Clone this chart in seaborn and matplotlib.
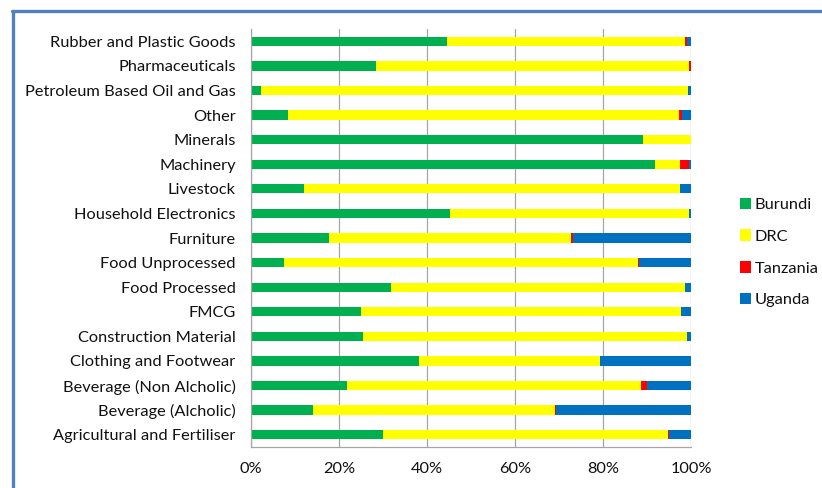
import numpy as np
import pandas as pd
import matplotlib
matplotlib.use("Agg")
import matplotlib.pyplot as plt
from matplotlib.lines import Line2D
from matplotlib.patches import Patch
from matplotlib.ticker import FixedLocator, PercentFormatter
import seaborn as sns

categories = [
    "Rubber and Plastic Goods", "Pharmaceuticals", "Petroleum Based Oil and Gas",
    "Other", "Minerals", "Machinery", "Livestock", "Household Electronics",
    "Furniture", "Food Unprocessed", "Food Processed", "FMCG",
    "Construction Material", "Clothing and Footwear", "Beverage (Non Alcholic)",
    "Beverage (Alcholic)", "Agricultural and Fertiliser",
]
countries = ["Burundi", "DRC", "Tanzania", "Uganda"]
burundi = [44.5, 28.4, 2.3, 8.4, 89.2, 91.9, 12.0, 45.3, 17.7, 7.4, 31.9, 25.0, 25.5, 38.2, 21.8, 14.2, 30.1]
drc = [54.2, 71.2, 97.1, 88.8, 10.8, 5.6, 85.5, 54.2, 55.0, 80.6, 66.8, 72.7, 73.6, 41.2, 66.8, 54.9, 64.6]
tanzania = [0.5, 0.4, 0.0, 0.8, 0.0, 2.0, 0.0, 0.0, 0.4, 0.2, 0.0, 0.1, 0.0, 0.0, 1.5, 0.2, 0.2]
uganda = [0.8, 0.0, 0.6, 2.0, 0.0, 0.5, 2.5, 0.5, 26.9, 11.8, 1.3, 2.2, 0.9, 20.6, 9.9, 30.7, 5.1]
colors = ["#00b050", "#ffff00", "#ff0000", "#0070c0"]
xticks = [0, 20, 40, 60, 80, 100]

df = pd.DataFrame({"Burundi": burundi, "DRC": drc, "Tanzania": tanzania, "Uganda": uganda},
                  index=categories)
# 100% stacked shares
share = df.div(df.sum(axis=1), axis=0) * 100
cum = share.cumsum(axis=1)

sns.set_style("white")
plt.rcParams["font.family"] = ["Lato", "DejaVu Sans"]

fig = plt.figure(figsize=(8.22, 4.88), dpi=100)
ax = fig.add_axes([251 / 822, 1 - 447 / 488, 440 / 822, 418 / 488])

# draw cumulative totals from the outermost segment inward so they stack
for country, color in reversed(list(zip(countries, colors))):
    sns.barplot(x=cum[country].values, y=categories, orient="h", color=color,
                width=0.38, saturation=1, ax=ax, linewidth=0, order=categories)

ax.set_xlim(0, 100)
ax.set_ylim(16.5, -0.5)
ax.set_xticks(xticks)
ax.xaxis.set_major_formatter(PercentFormatter(decimals=0))
ax.set_xlabel("")
ax.set_ylabel("")
ax.set_axisbelow(True)
ax.grid(axis="x", color="#a6a6a6", linewidth=0.9)
ax.grid(axis="y", visible=False)

for s in ["top", "right"]:
    ax.spines[s].set_visible(False)
for s in ["left", "bottom"]:
    ax.spines[s].set_color("#a6a6a6")
    ax.spines[s].set_linewidth(0.9)

ax.tick_params(axis="y", which="major", length=0, pad=11, labelsize=11.8, labelcolor="#111111")
ax.yaxis.set_minor_locator(FixedLocator(np.arange(-0.5, 17, 1)))
ax.tick_params(axis="y", which="minor", length=5, color="#a6a6a6", width=0.9, direction="out")
ax.tick_params(axis="x", which="major", length=4, color="#a6a6a6", width=0.9,
               direction="out", pad=7, labelsize=11.8, labelcolor="#111111")

handles = [Patch(facecolor=c, edgecolor="none") for c in colors]
fig.legend(handles, countries, loc="upper left", bbox_to_anchor=(725 / 822, 1 - 183 / 488),
           frameon=False, fontsize=11.8, labelspacing=1.05, handlelength=0.7,
           handleheight=0.7, handletextpad=0.2, labelcolor="#111111")

# blue frame along the top and left edge
fig.add_artist(Line2D([12 / 822, 1], [1 - 10.5 / 488, 1 - 10.5 / 488],
                      transform=fig.transFigure, color="#4f81bd", linewidth=2.4))
fig.add_artist(Line2D([13 / 822, 13 / 822], [0, 1 - 10.5 / 488],
                      transform=fig.transFigure, color="#4f81bd", linewidth=2.4))

fig.savefig("out.png", dpi=100)
